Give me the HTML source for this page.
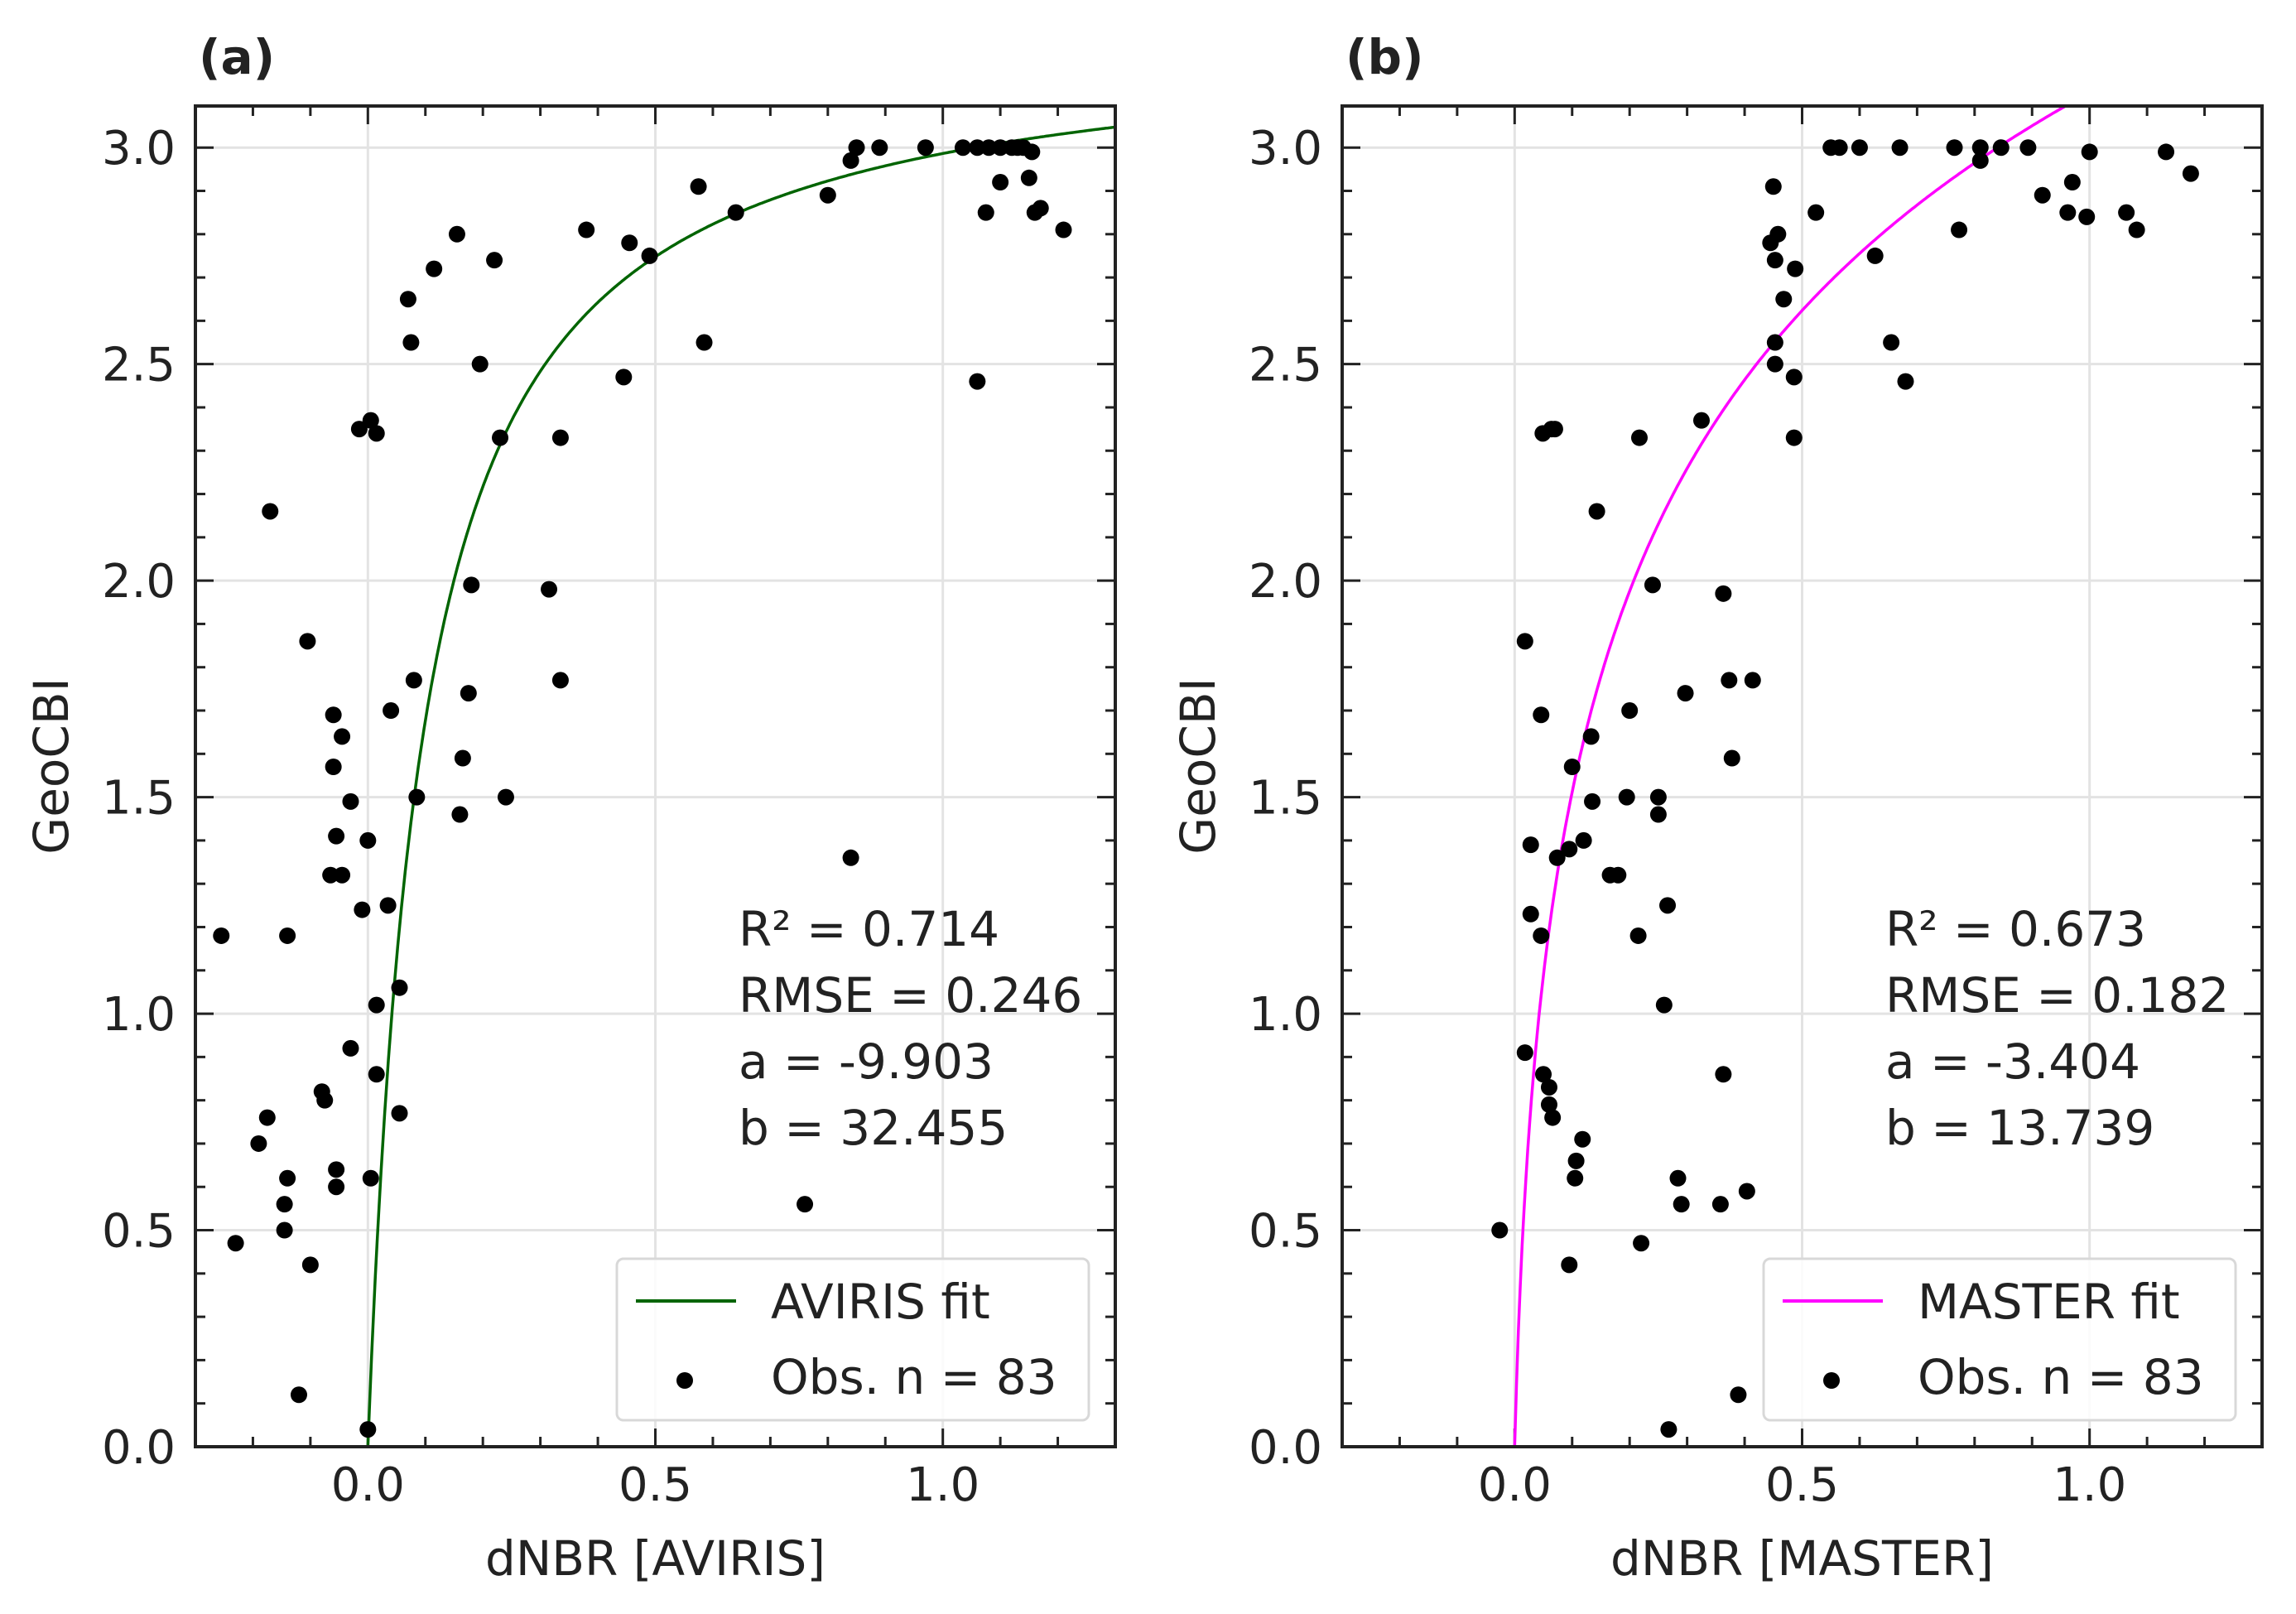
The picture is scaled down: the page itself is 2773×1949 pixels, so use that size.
<!DOCTYPE html>
<html><head><meta charset="utf-8">
<style>
html,body{margin:0;padding:0;background:#fff;}
svg{display:block;font-family:"DejaVu Sans","Liberation Sans",sans-serif;}
</style></head>
<body>
<svg id="fig" width="2773" height="1949" viewBox="0 0 2773 1949" xmlns="http://www.w3.org/2000/svg"></svg>
<script>
// ---- data ----
const aX = [-0.255,-0.17,-0.23,-0.19,-0.175,-0.14,-0.14,-0.145,-0.145,-0.12,-0.105,-0.10,-0.08,-0.075,-0.06,-0.06,-0.065,-0.045,-0.055,-0.045,-0.055,-0.055,-0.03,-0.03,-0.015,0.005,0.015,-0.01,0.0,0.005,0.0,0.015,0.015,0.04,0.035,0.055,0.055,0.07,0.075,0.08,0.085,0.115,0.155,0.16,0.165,0.175,0.18,0.195,0.22,0.23,0.24,0.315,0.335,0.335,0.38,0.445,0.455,0.49,0.575,0.585,0.64,0.76,0.80,0.84,0.84,0.85,0.89,0.97,1.035,1.06,1.075,1.08,1.10,1.12,1.14,1.15,1.155,1.16,1.17,1.21,1.10,1.13,1.06];
const aY = [1.18,2.16,0.47,0.70,0.76,1.18,0.62,0.56,0.50,0.12,1.86,0.42,0.82,0.80,1.69,1.57,1.32,1.32,1.41,1.64,0.64,0.60,1.49,0.92,2.35,2.37,2.34,1.24,1.40,0.62,0.04,1.02,0.86,1.70,1.25,1.06,0.77,2.65,2.55,1.77,1.50,2.72,2.80,1.46,1.59,1.74,1.99,2.50,2.74,2.33,1.50,1.98,2.33,1.77,2.81,2.47,2.78,2.75,2.91,2.55,2.85,0.56,2.89,1.36,2.97,3.0,3.0,3.0,3.0,2.46,2.85,3.0,2.92,3.0,3.0,2.93,2.99,2.85,2.86,2.81,3.0,3.0,3.0];
const bX = [-0.026,0.018,0.018,0.028,0.028,0.046,0.046,0.049,0.064,0.07,0.05,0.06,0.06,0.066,0.074,0.095,0.10,0.095,0.107,0.105,0.118,0.12,0.135,0.133,0.143,0.166,0.18,0.195,0.20,0.215,0.217,0.22,0.24,0.25,0.25,0.26,0.266,0.268,0.284,0.29,0.297,0.325,0.358,0.363,0.363,0.373,0.378,0.389,0.404,0.414,0.445,0.45,0.453,0.458,0.453,0.453,0.468,0.488,0.486,0.486,0.524,0.55,0.565,0.60,0.627,0.655,0.67,0.68,0.765,0.773,0.81,0.81,0.846,0.893,0.918,0.97,0.962,1.0,0.995,1.064,1.082,1.133,1.176];
const bY = [0.50,1.86,0.91,1.39,1.23,1.69,1.18,2.34,2.35,2.35,0.86,0.83,0.79,0.76,1.36,1.38,1.57,0.42,0.66,0.62,0.71,1.40,1.49,1.64,2.16,1.32,1.32,1.50,1.70,1.18,2.33,0.47,1.99,1.50,1.46,1.02,1.25,0.04,0.62,0.56,1.74,2.37,0.56,1.97,0.86,1.77,1.59,0.12,0.59,1.77,2.78,2.91,2.74,2.80,2.55,2.50,2.65,2.72,2.47,2.33,2.85,3.0,3.0,3.0,2.75,2.55,3.0,2.46,3.0,2.81,2.97,3.0,3.0,3.0,2.89,2.92,2.85,2.99,2.84,2.85,2.81,2.99,2.94];
const xTicks = [0.0,0.5,1.0];
const xTickLabels = ["0.0","0.5","1.0"];
const yTicks = [0.0,0.5,1.0,1.5,2.0,2.5,3.0];
const yTickLabels = ["0.0","0.5","1.0","1.5","2.0","2.5","3.0"];
const statsA = ["R² = 0.714","RMSE = 0.246","a = -9.903","b = 32.455"];
const statsB = ["R² = 0.673","RMSE = 0.182","a = -3.404","b = 13.739"];

const NS="http://www.w3.org/2000/svg";
const svg=document.getElementById('fig');
function mk(tag,attrs,parent){const e=document.createElementNS(NS,tag);for(const k in attrs)e.setAttribute(k,attrs[k]);(parent||svg).appendChild(e);return e;}

function panel(o){
  const L=o.left,R=o.left+1111,T=128,B=1747;
  const xmin=-0.3,xmax=1.3,ymin=0,ymax=3.096;
  const sx=v=>L+(v-xmin)/(xmax-xmin)*(R-L);
  const sy=v=>B-(v-ymin)/(ymax-ymin)*(B-T);
  const g=mk('g',{});
  
  
  const cid='clip'+o.name;
  const cp=mk('clipPath',{id:cid},g);mk('rect',{x:L,y:T,width:R-L,height:B-T},cp);
  for(const t of xTicks){const l=mk('line',{x1:sx(t),x2:sx(t),y1:T,y2:B,stroke:'#e3e3e3','stroke-width':3},g);}
  for(const t of yTicks){const l=mk('line',{x1:L,x2:R,y1:sy(t),y2:sy(t),stroke:'#e3e3e3','stroke-width':3},g);}
  for(let i=-3;i<=13;i++){const v=i/10;const p=sx(v);if(p<L||p>R)continue;const len=(i%5===0)?22:12;
    mk('line',{x1:p,x2:p,y1:B,y2:B-len,stroke:'#222','stroke-width':3},g);mk('line',{x1:p,x2:p,y1:T,y2:T+len,stroke:'#222','stroke-width':3},g);}
  for(let i=0;i<=30;i++){const v=i/10;const p=sy(v);const len=(i%5===0)?22:12;
    mk('line',{x1:L,x2:L+len,y1:p,y2:p,stroke:'#222','stroke-width':3},g);mk('line',{x1:R,x2:R-len,y1:p,y2:p,stroke:'#222','stroke-width':3},g);}
  xTicks.forEach((t,i)=>{const e=mk('text',{x:sx(t),y:1812,'font-size':56,'text-anchor':'middle',fill:'#222'},g);e.textContent=xTickLabels[i];});
  yTicks.forEach((t,i)=>{const e=mk('text',{x:L-24,y:sy(t)+20,'font-size':56,'text-anchor':'end',fill:'#222'},g);e.textContent=yTickLabels[i];});
  const pts=[];for(let i=0;i<=400;i++){const x=i/400*1.3;const y=o.fit(x);if(y>3.3)break;pts.push(sx(x).toFixed(1)+','+sy(y).toFixed(1));}
  const fl=mk('polyline',{points:pts.join(' '),fill:'none',stroke:o.color,'stroke-width':3.5,'clip-path':'url(#'+cid+')'},g);
  
  o.xs.forEach((x,i)=>{const c=mk('circle',{cx:sx(x),cy:sy(o.ys[i]),r:10,fill:'#000'},g);
    });
  const fr=mk('rect',{x:L,y:T,width:R-L,height:B-T,fill:'none',stroke:'#222','stroke-width':4},g);
  
  o.stats.forEach((s,i)=>{const e=mk('text',{x:L+656,y:1142+i*80,'font-size':58,fill:'#222'},g);e.textContent=s;});
  const lg=mk('g',{},g);
  mk('rect',{x:L+509,y:1520,width:570,height:195,rx:8,fill:'#fff','fill-opacity':0.85,stroke:'#d8d8d8','stroke-width':3},lg);
  mk('line',{x1:L+532,x2:L+653,y1:1571,y2:1571,stroke:o.color,'stroke-width':4},lg);
  let t=mk('text',{x:L+695,y:1592,'font-size':58,fill:'#222'},lg);t.textContent=o.legend;
  mk('circle',{cx:L+591,cy:1667,r:10,fill:'#000'},lg);
  t=mk('text',{x:L+695,y:1683,'font-size':58,fill:'#222'},lg);t.textContent='Obs. n = 83';
  t=mk('text',{x:(L+R)/2,y:1902,'font-size':58,'text-anchor':'middle',fill:'#222'},g);t.textContent=o.xlabel;
  t=mk('text',{x:0,y:0,'font-size':58,'text-anchor':'middle',fill:'#222',transform:'translate('+(L-154)+',925) rotate(-90)'},g);t.textContent='GeoCBI';
  t=mk('text',{x:L+4,y:89,'font-size':58,'font-weight':'bold',fill:'#222'},g);t.textContent=o.title;
}
panel({name:'panel-a',left:236,xs:aX,ys:aY,color:'#006400',fit:x=>3.27*x/(0.095+x),stats:statsA,legend:'AVIRIS fit',xlabel:'dNBR [AVIRIS]',title:'(a)'});
panel({name:'panel-b',left:1621,xs:bX,ys:bY,color:'#ff00ff',fit:x=>0.742*Math.log(1+x/0.015),stats:statsB,legend:'MASTER fit',xlabel:'dNBR [MASTER]',title:'(b)'});
</script>
</body></html>
